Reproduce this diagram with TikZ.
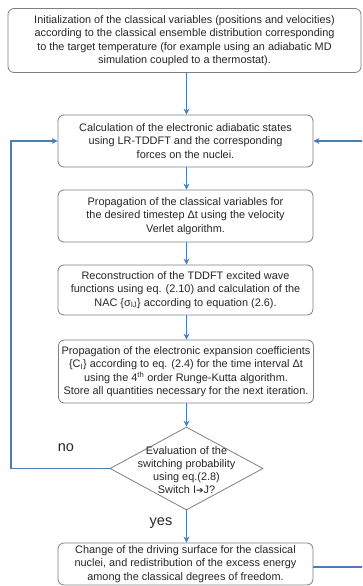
\documentclass[tikz,border=0pt]{standalone}
\usepackage{fontspec}
\setmainfont{Liberation Sans}
\newfontfamily\dejavu{DejaVu Sans}
\usetikzlibrary{shapes.geometric,arrows.meta}
\definecolor{flowblue}{HTML}{4A7EBB}
\definecolor{boxgray}{HTML}{7F7F7F}
\definecolor{txt}{HTML}{262626}
\begin{document}
\begin{tikzpicture}[x=1pt,y=-1pt,
  box/.style={draw=boxgray,line width=0.8pt,rounded corners=6pt,align=center,
    inner sep=0pt,text=txt,font=\fontsize{10.9}{13.4}\selectfont},
  arr/.style={draw=flowblue,line width=1.4pt,-{Stealth[length=6pt,width=6pt]}},
  lab/.style={text=txt,font=\fontsize{14.5}{16}\selectfont}]
\useasboundingbox (0,0) rectangle (362,586);
\clip (0,0) rectangle (362,586);
\node[box,minimum width=353pt,minimum height=64pt] (b1) at (184.5,40.5)
  {Initialization of the classical variables (positions and velocities)\\
   according to the classical ensemble distribution corresponding\\
   to the target temperature (for example using an adiabatic MD\\
   simulation coupled to a thermostat).};
\node[box,minimum width=255pt,minimum height=52pt] (b2) at (185.5,141)
  {Calculation of the electronic adiabatic states\\
   using LR-TDDFT and the corresponding\\
   forces on the nuclei.};
\node[box,minimum width=255pt,minimum height=52pt] (b3) at (185.5,216)
  {Propagation of the classical variables for\\
   the desired timestep Δt using the velocity\\
   Verlet algorithm.};
\node[box,minimum width=255pt,minimum height=50pt] (b4) at (185.5,290)
  {Reconstruction of the TDDFT excited wave\\
   functions using eq. (2.10) and calculation of the\\
   NAC \{σ\textsubscript{IJ}\} according to equation (2.6).};
\node[box,minimum width=255pt,minimum height=63pt] (b5) at (186,371.5)
  {Propagation of the electronic expansion coefficients\\
   \{C\textsubscript{I}\} according to eq. (2.4) for the time interval Δt\\
   using the 4\textsuperscript{th} order Runge-Kutta algorithm.\\
   Store all quantities necessary for the next iteration.};
\node[diamond,draw=boxgray,line width=0.8pt,inner sep=0pt,aspect=1.84,
  minimum width=153pt,minimum height=83pt] (dia) at (186.5,468.5) {};
\node[align=center,text=txt,font=\fontsize{10.9}{12.8}\selectfont,inner sep=0pt]
  (diatext) at (186.5,470)
  {Evaluation of the\\ switching probability\\ using eq.(2.8)\\ Switch I{\dejavu\fontsize{9}{10}\selectfont ➔}J?};
\node[box,minimum width=255pt,minimum height=42pt] (b6) at (185.5,564)
  {Change of the driving surface for the classical\\
   nuclei, and redistribution of the excess energy\\
   among the classical degrees of freedom.};
\node[lab] (no) at (66,448) {no};
\node[lab] (yes) at (161,523) {yes};
\draw[arr] (b1.south -| dia.north) -- (b2.north -| dia.north);
\draw[arr] (b2.south -| dia.north) -- (b3.north -| dia.north);
\draw[arr] (b3.south -| dia.north) -- (b4.north -| dia.north);
\draw[arr] (b4.south -| dia.north) -- (b5.north -| dia.north);
\draw[arr] (b5.south -| dia.north) -- (dia.north);
\draw[arr] (dia.south) -- (b6.north -| dia.south);
\draw[arr] (dia.west) -- ++(-98.5,0) |- (b2.west);
\draw[arr] ([yshift=-3pt]b6.east) -- ++(60,0) |- (b2.east);
\end{tikzpicture}
\end{document}
